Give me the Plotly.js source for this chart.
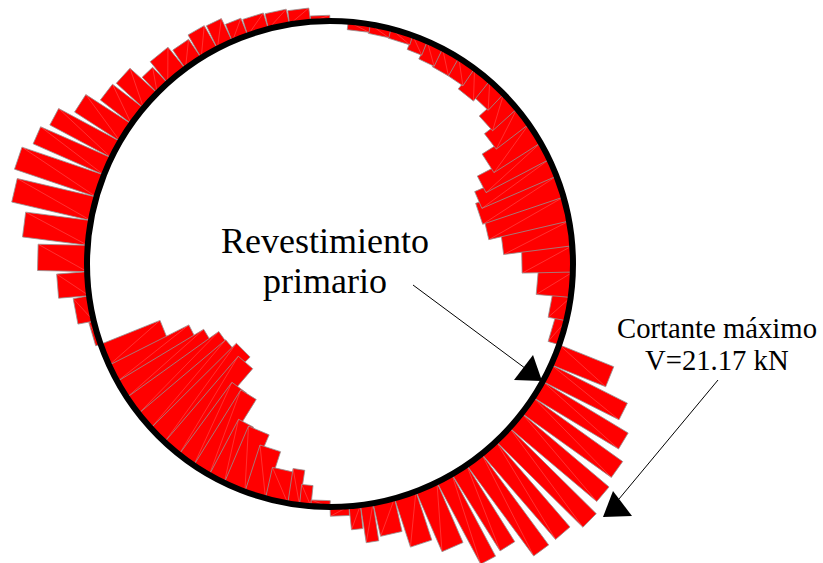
<!DOCTYPE html>
<html>
<head>
<meta charset="utf-8">
<script src="https://cdn.plot.ly/plotly-3.0.0.min.js"></script>
<style>html,body{margin:0;padding:0;background:#fff}#chart{width:823px;height:563px}</style>
</head>
<body>
<div id="chart"></div>
<script>
// Ring nodes (degrees, counter-clockwise from east)
const ringNodeDeg = [-90,-85.5,-82.8,-79.8,-74.6,-69.3,-63.9,-59.9,-55.8,-51.4,-46.9,-42.4,-37.9,-33.3,-28.9,-24.5,-19.4,
  -13.5,-7.9,-1.9,4.3,10.2,16.0,21.2,25.5,29.9,35.1,39.7,44.4,48.9,53.5,58.0,62.4,66.4,70.1,75.5,80.5,85.7,90,
  94.6,99.6,104.7,109.8,113.7,117.6,122,126.5,131.9,135.3,140.1,144.8,149.7,154.1,158.5,164,169.7,175.6,181.8,187.5,193.6,199.3,
  204.6,208.9,213.3,218,222.5,227.1,231.6,235.9,240.2,244.2,249.5,254.6,260,262.8,265.5,270];
// Shear force per lining element (kN): outward positive, inward negative
const shearKN = [1.6,4.1,6.6,5.9,8.9,11.4,16.1,15.7,19.6,19.6,21.17,19.8,19.1,17.3,14.8,10.2,
  -2.0,-3.2,-6.0,-8.8,-12.0,-14.3,-14.8,-14.1,-12.4,-9.6,-7.1,-5.7,-3.9,-4.5,-3.6,-3.6,-3.4,-2.6,-1.7,-1.6,-1.4,0,
  1.0,2.4,2.7,2.9,3.2,4.4,4.6,3.9,4.8,3.8,6.4,6.8,9.4,12.1,13.4,15.0,14.1,11.4,8.6,5.3,2.8,0.9,
  -11.1,-15.5,-17.5,-19.6,-19.8,-20.9,-19.6,-15.5,-15.4,-10.9,-10.7,-8.5,-5.5,-6.1,-3.6,-1.1];
const labelMain = ["Revestimiento","primario"];
const labelMax = ["Cortante máximo","V=21.17 kN"];

const PX_PER_UNIT = 5.6, CX = 330, CY = 264, R = 243 / PX_PER_UNIT, SHEAR_SCALE = 1.03;
const sx = px => (px - CX) / PX_PER_UNIT, sy = py => (CY - py) / PX_PER_UNIT;
const rad = d => d * Math.PI / 180;

const traces = [];
shearKN.forEach((v, i) => {
  if (v === 0) return;
  const a = rad(ringNodeDeg[i]), b = rad(ringNodeDeg[i + 1]), m = (a + b) / 2;
  const ax = R * Math.cos(a), ay = R * Math.sin(a), bx = R * Math.cos(b), by = R * Math.sin(b);
  const ox = v * SHEAR_SCALE * Math.cos(m), oy = v * SHEAR_SCALE * Math.sin(m);
  traces.push({type:'scatter', mode:'lines', x:[ax, bx, bx + ox, ax + ox, ax], y:[ay, by, by + oy, ay + oy, ay],
    fill:'toself', fillcolor:'#ff0000', line:{color:'#939393', width:0.8}, hoverinfo:'skip', showlegend:false});
  traces.push({type:'scatter', mode:'lines', x:[ax + ox, bx], y:[ay + oy, by],
    line:{color:'rgba(255,140,140,0.7)', width:0.5}, hoverinfo:'skip', showlegend:false});
});

const tri = (p) => 'M' + p.map(q => sx(q[0]) + ',' + sy(q[1])).join('L') + 'Z';
const seg = (x0,y0,x1,y1) => ({type:'line', xref:'x', yref:'y', x0:sx(x0), y0:sy(y0), x1:sx(x1), y1:sy(y1),
  line:{color:'#000', width:1}, layer:'above'});
const shapes = [
  {type:'circle', xref:'x', yref:'y', x0:-R, y0:-R, x1:R, y1:R, line:{color:'#000', width:6}, fillcolor:'rgba(0,0,0,0)', layer:'above'},
  seg(413,285,541,380), seg(718,380,604,517),
  {type:'path', xref:'x', yref:'y', path:tri([[533,355],[514,380],[542,381]]), fillcolor:'#000', line:{width:0}, layer:'above'},
  {type:'path', xref:'x', yref:'y', path:tri([[613,491],[603,517],[632,516]]), fillcolor:'#000', line:{width:0}, layer:'above'}
];
const note = (t, x, y, size) => ({text:t, x:sx(x), y:sy(y), xref:'x', yref:'y', showarrow:false,
  xanchor:'center', yanchor:'middle', font:{family:'"Liberation Serif","Times New Roman",serif', size:size, color:'#000'}});
const annotations = [
  note(labelMain[0], 325, 241, 36), note(labelMain[1], 325, 281, 36),
  note(labelMax[0], 717, 328, 28.7), note(labelMax[1], 717, 360, 28.7)
];
const layout = {
  width:823, height:563, margin:{l:0,r:0,t:0,b:0}, paper_bgcolor:'#fff', plot_bgcolor:'#fff', showlegend:false,
  xaxis:{range:[sx(0), sx(823)], visible:false, fixedrange:true},
  yaxis:{range:[sy(563), sy(0)], visible:false, fixedrange:true},
  shapes, annotations
};
Plotly.newPlot('chart', traces, layout, {displayModeBar:false, staticPlot:true});
</script>
</body>
</html>
